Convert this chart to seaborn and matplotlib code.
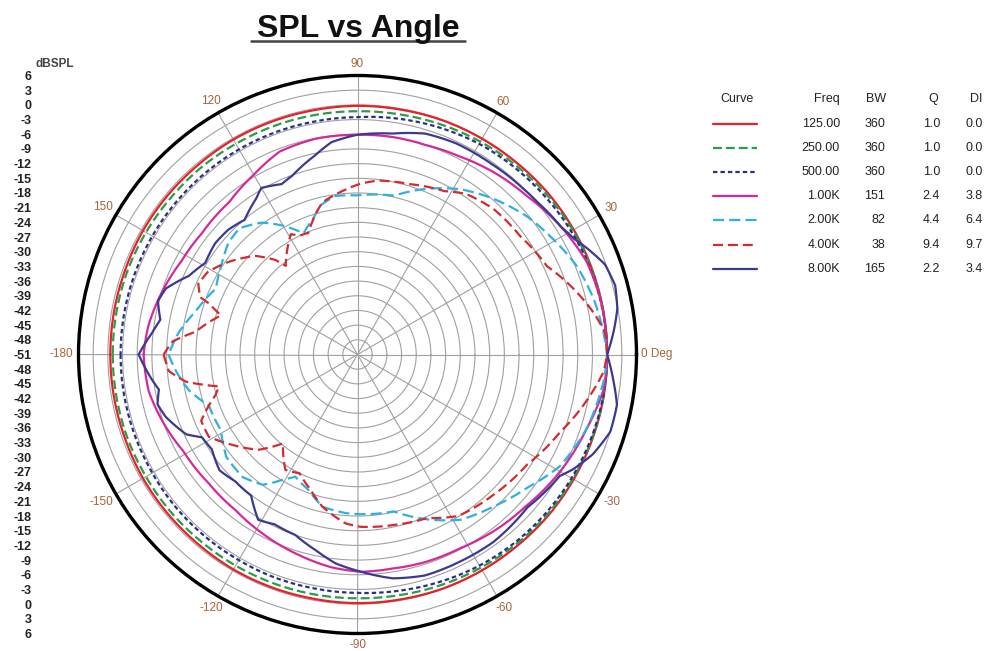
import numpy as np
import matplotlib
matplotlib.use("Agg")
import matplotlib.pyplot as plt
from matplotlib.lines import Line2D
import seaborn as sns

W, H = 988, 651

# ---- values: angle (deg) / level (dB) ----
ang_10 = list(range(-180, 181, 10))
spl_125 = [-0.5, -0.5, -0.5, -0.4, -0.4, -0.4, -0.3, -0.3, -0.3, -0.2, -0.2, -0.1, -0.1,
           -0.1, 0.0, 0.0, 0.0, 0.0, 0.0, 0.0, 0.0, 0.0, 0.0, -0.1, -0.1, -0.1, -0.2, -0.2,
           -0.3, -0.3, -0.3, -0.4, -0.4, -0.4, -0.5, -0.5, -0.5]
spl_250 = [-1.0, -1.0, -1.0, -1.1, -1.1, -1.2, -1.2, -1.2, -1.2, -1.2, -1.1, -0.9, -0.7,
           -0.5, -0.3, -0.2, -0.1, 0.0, 0.0, 0.0, -0.1, -0.2, -0.4, -0.6, -0.8, -1.0, -1.2,
           -1.3, -1.3, -1.3, -1.3, -1.2, -1.2, -1.1, -1.0, -1.0, -1.0]
spl_500 = [-2.6, -2.6, -2.6, -2.6, -2.5, -2.5, -2.5, -2.4, -2.4, -2.3, -2.0, -1.6, -1.2,
           -0.9, -0.7, -0.5, -0.3, -0.1, 0.0, -0.1, -0.3, -0.6, -0.9, -1.1, -1.3, -1.7, -2.1,
           -2.5, -2.6, -2.6, -2.6, -2.6, -2.6, -2.6, -2.6, -2.6, -2.6]

ang_1k = [-180, -170, -161, -151, -139, -128, -118, -107, -97, -89, -81, -72, -62, -52, -42,
          -30, -18, -8, 0, 13, 22, 32, 43, 53, 63, 72, 81, 90, 101, 111, 120, 130, 142, 152,
          162, 172, 180]
spl_1k = [-7.3, -7.7, -8.9, -10.3, -10.8, -10.6, -9.6, -8.4, -7.2, -6.6, -6.7, -6.4, -6.2,
          -5.4, -4.7, -3.2, -1.8, -0.2, 0.0, -0.1, -0.5, -1.9, -3.6, -4.5, -5.5, -6.0, -6.0,
          -6.1, -6.1, -6.6, -8.6, -10.3, -10.7, -10.3, -9.1, -7.9, -7.3]

ang_2k = [-180, -175, -168, -161, -151, -142, -133, -126, -121, -117, -110, -103, -94, -77,
          -67, -58, -48, -38, -29, -18, -6, 0, 13, 22, 30, 39, 49, 58, 67, 77, 90, 98, 104,
          108, 114, 120, 126, 133, 139, 146, 155, 165, 173, 180]
spl_2k = [-12.4, -13.7, -15.8, -18.9, -19.1, -17.0, -16.7, -18.1, -21.1, -23.0, -21.6, -19.1,
          -18.5, -18.1, -14.4, -11.2, -9.3, -6.9, -3.8, -1.8, -0.4, 0.0, -1.4, -2.7, -4.5,
          -6.3, -8.8, -11.2, -14.2, -17.7, -18.5, -18.3, -19.6, -21.8, -23.9, -20.6, -17.7,
          -15.7, -16.1, -17.6, -19.1, -16.8, -14.2, -12.4]

ang_4k = [-180, -175, -171, -167, -164, -157, -151, -145, -136, -130, -122, -116, -109, -103,
          -94, -89, -78, -67, -58, -46, -33, -21, -10, -4, 0, 5, 10, 17, 25, 36, 47, 56, 62,
          73, 83, 89, 95, 103, 107, 112, 116, 119, 129, 131, 136, 144, 151, 156, 160, 161,
          164, 172, 176, 180]
spl_4k = [-11.4, -12.3, -15.5, -22.0, -20.8, -16.3, -16.3, -19.1, -23.0, -27.3, -23.2, -24.0,
          -21.7, -19.1, -16.4, -15.8, -15.4, -14.7, -12.1, -11.1, -9.7, -6.7, -2.75, -0.6,
          0.0, -0.2, -2.0, -4.9, -8.3, -9.9, -10.3, -11.4, -13.2, -14.6, -15.2, -16.1, -17.4,
          -19.1, -21.3, -24.2, -24.0, -22.9, -27.7, -25.4, -22.0, -18.7, -16.1, -15.4, -16.8,
          -18.9, -22.0, -17.6, -13.1, -11.4]

ang_8k = [-180, -173, -170, -166, -162, -155, -152, -147, -140, -134, -127, -121, -116, -109,
          -102, -96, -89, -81, -73, -64, -54, -42, -31, -28, -23, -17, -11, -6, 0, 5, 10, 15,
          20, 25, 28, 32, 40, 45, 55, 65, 73, 81, 90, 97, 102, 110, 114, 120, 123, 130, 136,
          142, 149, 155, 161, 165, 170, 174, 180]
spl_8k = [-6.3, -8.7, -9.8, -8.9, -9.8, -12.4, -15.0, -15.5, -14.2, -15.0, -14.9, -11.6,
          -12.4, -12.0, -10.1, -8.1, -6.6, -4.7, -3.8, -3.8, -3.7, -4.3, -2.8, -1.1, 1.2, 3.0,
          3.0, 1.6, 0.0, 1.5, 2.9, 3.5, 2.8, 0.6, -0.8, -1.9, -2.8, -3.1, -3.4, -3.4, -3.8,
          -5.3, -6.1, -7.3, -9.4, -12.1, -12.9, -11.7, -13.0, -15.1, -14.3, -14.1, -14.7,
          -13.0, -9.6, -8.8, -10.1, -8.8, -6.3]

# legend table columns
freqs = ["125.00", "250.00", "500.00", "1.00K", "2.00K", "4.00K", "8.00K"]
bws = ["360", "360", "360", "151", "82", "38", "165"]
qs = ["1.0", "1.0", "1.0", "2.4", "4.4", "9.4", "2.2"]
dis = ["0.0", "0.0", "0.0", "3.8", "6.4", "9.7", "3.4"]

colors = ["#e8202a", "#2a9d48", "#2b2f85", "#d4289c", "#2eb0e0", "#d42a30", "#3b3990"]
styles = ["-", (0, (4, 1.8)), (0, (2, 1.35)), "-", (0, (5, 2.3)), (0, (4.5, 2.2)), "-"]

angles = [ang_10, ang_10, ang_10, ang_1k, ang_2k, ang_4k, ang_8k]
levels = [spl_125, spl_250, spl_500, spl_1k, spl_2k, spl_4k, spl_8k]

sns.set_style("white")
plt.rcParams["font.family"] = ["Liberation Sans", "DejaVu Sans"]

fig = plt.figure(figsize=(W / 100, H / 100), dpi=100)
rect = [78.5 / W, 1 - 633.5 / H, 558 / W, 558 / H]
ax = fig.add_axes(rect, projection="polar")

for a, s, c, ls in zip(angles, levels, colors, styles):
    sns.lineplot(x=np.deg2rad(a), y=s, ax=ax, sort=False, estimator=None,
                 color=c, lw=1.6, linestyle=ls)

# let the polar transform draw each segment as a curve (theta-r linear), not a chord
for ln in ax.lines:
    ln.get_path()._interpolation_steps = 40

ax.set_ylim(-51, 6)
ax.set_yticks(np.arange(-48, 6, 3))
ax.set_yticklabels([])
ax.set_xticks(np.deg2rad(np.arange(0, 360, 30)))
ax.set_xticklabels([])
ax.set_xlabel("")
ax.set_ylabel("")
ax.grid(True, color="#a0a0a0", lw=0.8)
ax.spines["polar"].set_color("black")
ax.spines["polar"].set_linewidth(2.4)

# angle labels
brown = "#a8633a"
for deg in [30, 60, 90, 120, 150, 180, -150, -120, -90, -60, -30]:
    lab = "-180" if deg == 180 else str(deg)
    th = np.deg2rad(deg)
    r = 8.3 + 0.3 * len(lab) * abs(np.cos(th))
    ax.text(th, r, lab, ha="center", va="center", color=brown, fontsize=8.5, clip_on=False)
ax.text(0, 6.9, "0 Deg", ha="left", va="center", color=brown, fontsize=8.5, clip_on=False)

# left dBSPL scale
ax2 = fig.add_axes(rect, frameon=False)
ax2.set_xlim(0, 1)
ax2.set_ylim(-57, 57)
yt = np.arange(-57, 58, 3)
ax2.set_yticks(yt)
ax2.set_yticklabels([str(int(-51 + abs(p))) for p in yt])
ax2.set_xticks([])
ax2.tick_params(axis="y", length=0, pad=34, labelsize=9, labelcolor="#222222")
for t in ax2.get_yticklabels():
    t.set_fontweight("bold")
ax2.patch.set_visible(False)
fig.text(36 / W, 1 - 64 / H, "dBSPL", ha="left", va="center", fontsize=8.5,
         fontweight="bold", color="#444444")

# title
fig.text(358 / W, 1 - 37 / H, "SPL vs Angle", ha="center", va="baseline",
         fontsize=23, fontweight="bold", color="#111111")
fig.add_artist(Line2D([251 / W, 465 / W], [1 - 41 / H] * 2, transform=fig.transFigure,
                      color="#444444", lw=1.8))

# legend table
axt = fig.add_axes([700 / W, 1 - 280 / H, 288 / W, 195 / H])
axt.set_xlim(700, 988)
axt.set_ylim(280, 85)
axt.axis("off")
hk = dict(fontsize=9, color="#222222", va="center")
axt.text(737, 99, "Curve", ha="center", **hk)
axt.text(840, 99, "Freq", ha="right", **hk)
axt.text(876, 99, "BW", ha="center", **hk)
axt.text(933, 99, "Q", ha="center", **hk)
axt.text(976, 99, "DI", ha="center", **hk)
for i in range(len(freqs)):
    y = 124 + 24.1 * i
    axt.plot([713, 757], [y, y], color=colors[i], linestyle=styles[i], lw=1.6)
    axt.text(840, y, freqs[i], ha="right", **hk)
    axt.text(885, y, bws[i], ha="right", **hk)
    axt.text(940, y, qs[i], ha="right", **hk)
    axt.text(983, y, dis[i], ha="right", **hk)

fig.savefig("out.png", dpi=100)
